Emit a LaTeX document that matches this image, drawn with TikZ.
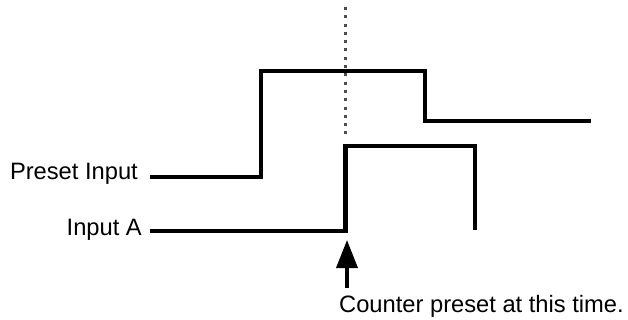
\documentclass[tikz,border=0pt]{standalone}
\usepackage{fontspec}
\setmainfont{Liberation Sans}
\usetikzlibrary{arrows.meta}

\begin{document}
\begin{tikzpicture}[
  x=1pt,y=-1pt,
  lbl/.style={inner sep=0pt,font=\fontsize{23.7}{28}\selectfont},
  wave/.style={line width=4.6pt,line join=miter},
  marker/.style={line width=3.2pt,black!70,dash pattern=on 3pt off 5.3pt},
  pointer/.style={line width=3.6pt,-{Triangle[length=28pt,width=21pt]}}
]
\useasboundingbox (0,0) rectangle (628,320);
% --- signal names ---
\node[lbl,anchor=base east] (preset) at (138,180) {Preset Input};
\node[lbl,anchor=base east] (inA) at (142,235) {Input A};
% --- time points ---
\coordinate (edge) at (345.5,146);
\coordinate (top) at (345.5,7);
\coordinate (tip) at (347,240);
% --- waveforms ---
\draw[wave] (150,177) -| (261,71) -| (425,121) -- (591,121);
\draw[wave] (150,231) -| (edge) -| (475,230);
\draw[marker] (top) -- ([yshift=7pt]edge);
% --- note ---
\node[lbl,anchor=base west] (note) at (339,312) {Counter preset at this time.};
\draw[pointer] ([yshift=7pt]note.north -| tip) -- (tip);
\end{tikzpicture}
\end{document}
